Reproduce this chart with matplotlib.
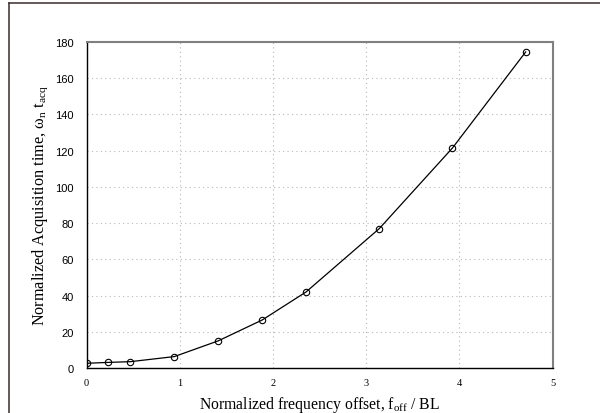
import matplotlib
matplotlib.use("Agg")
import matplotlib.pyplot as plt
from matplotlib.lines import Line2D

# Normalized frequency offset f_off / BL and normalized acquisition time
freq_offset = [0.0, 0.236, 0.471, 0.942, 1.414, 1.885, 2.356, 3.142, 3.927, 4.712]
acq_time = [2.6, 3.1, 3.5, 6.3, 15.0, 26.5, 42.0, 77.0, 121.5, 174.5]

x_ticks = [0, 1, 2, 3, 4, 5]
y_ticks = [0, 20, 40, 60, 80, 100, 120, 140, 160, 180]

plt.rcParams["mathtext.fontset"] = "custom"
plt.rcParams["mathtext.rm"] = "Liberation Serif"
plt.rcParams["mathtext.it"] = "Liberation Serif"

W, H = 600, 414
fig = plt.figure(figsize=(W / 100, H / 100), dpi=100)
ax = fig.add_axes([86.5 / W, 1 - 369 / H, 466 / W, 326 / H])

ax.plot(freq_offset, acq_time, color="black", lw=0.9,
        marker="o", ms=4.6, mfc="none", mec="black", mew=0.8)

ax.set_xlim(0, 5)
ax.set_ylim(0, 180)
ax.set_xticks(x_ticks)
ax.set_yticks(y_ticks)
ax.set_xticklabels([str(v) for v in x_ticks], family="Liberation Serif", fontsize=7.5)
ax.set_yticklabels([str(v) for v in y_ticks], family="Liberation Sans", fontsize=8)
ax.tick_params(axis="both", length=0)
ax.tick_params(axis="x", pad=7)
ax.tick_params(axis="y", pad=9)

ax.grid(True, color="#b8b8b8", linestyle=(0, (1, 3)), lw=0.8)

for side in ("left", "bottom"):
    ax.spines[side].set_color("black")
    ax.spines[side].set_linewidth(1.0)
for side in ("top", "right"):
    ax.spines[side].set_color("#808080")
    ax.spines[side].set_linewidth(1.5)

ax.set_xlabel(r"Normalized frequency offset, f$_{\mathrm{off}}$ / BL",
              family="Liberation Serif", fontsize=11.3, labelpad=5)
ax.set_ylabel(r"Normalized Acquisition time, $\omega_{\mathrm{n}}$ t$_{\mathrm{acq}}$",
              family="Liberation Serif", fontsize=11.7, labelpad=4)

# page frame lines along the top and left edges
frame_col = "#3a2c2c"
fig.add_artist(Line2D([9 / W, 9 / W], [0, 1 - 4 / H], transform=fig.transFigure,
                      color=frame_col, lw=1.1))
fig.add_artist(Line2D([9 / W, 1], [1 - 4 / H, 1 - 4 / H], transform=fig.transFigure,
                      color=frame_col, lw=1.1))

fig.savefig("out.png", dpi=100)
